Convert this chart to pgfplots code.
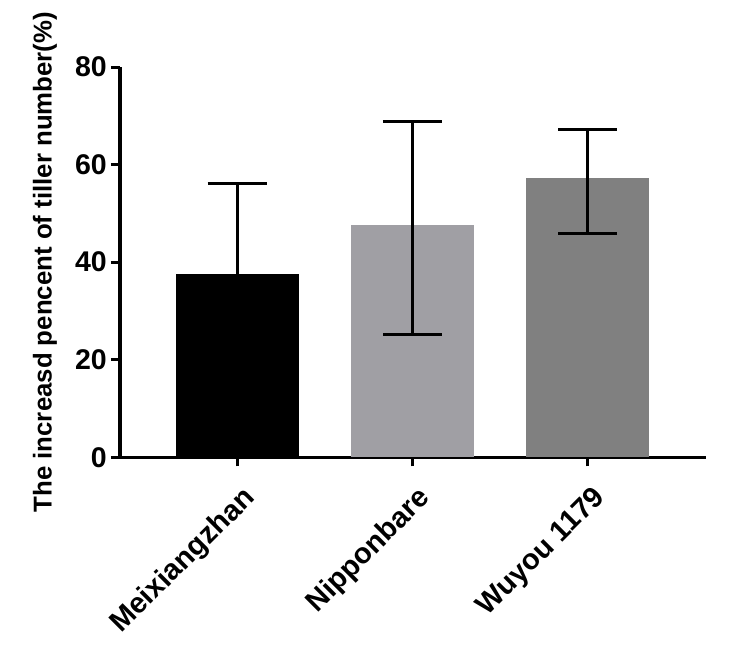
\documentclass[border=0pt]{standalone}
\usepackage{pgfplots}
\pgfplotsset{compat=1.18}
\usepackage{fontspec}
\setmainfont{Liberation Sans}
\definecolor{barA}{HTML}{000000}
\definecolor{barB}{HTML}{A09FA4}
\definecolor{barC}{HTML}{808080}
\begin{document}
\begin{tikzpicture}[x=1pt,y=1pt]
\useasboundingbox (-120pt,-191.7pt) rectangle (616pt,457.3pt);
\begin{axis}[
  at={(0pt,0pt)}, anchor=south west,
  scale only axis, width=585.7pt, height=390.3pt,
  xmin=-0.668, xmax=2.674, ymin=0, ymax=80,
  axis x line*=bottom, axis y line*=left,
  axis line style={line width=3.4pt, -},
  every tick/.style={line width=3pt, black},
  tick align=outside, major tick length=9pt,
  xtick={0,1,2}, xticklabels={Meixiangzhan,Nipponbare,Wuyou 1179},
  ytick={0,20,40,60,80},
  /pgf/number format/assume math mode=true,
  yticklabel style={font=\fontsize{28.5}{30}\selectfont\bfseries, inner sep=4pt},
  xticklabel style={font=\fontsize{29}{30}\selectfont\bfseries, xshift=4pt, yshift=-15pt, rotate=45, anchor=north east, inner sep=2pt},
  ylabel={The increasd pencent of tiller number(\%)},
  ylabel style={font=\fontsize{25.8}{28}\selectfont\bfseries, at={(axis description cs:-0.128,0.5)}, anchor=center},
  ybar, bar width=123pt,
  error bars/y dir=both, error bars/y explicit,
  error bars/error bar style={line width=3pt, black},
  error bars/error mark options={rotate=90, mark size=29.5pt, line width=3pt, black},
]
\addplot[fill=barA, draw=none, bar shift=0pt] coordinates {(0,37.5) +- (0,18.7)};
\addplot[fill=barB, draw=none, bar shift=0pt] coordinates {(1,47.6) += (0,21.3) -= (0,22.5)};
\addplot[fill=barC, draw=none, bar shift=0pt] coordinates {(2,57.2) += (0,10.0) -= (0,11.3)};
\end{axis}
\end{tikzpicture}
\end{document}
